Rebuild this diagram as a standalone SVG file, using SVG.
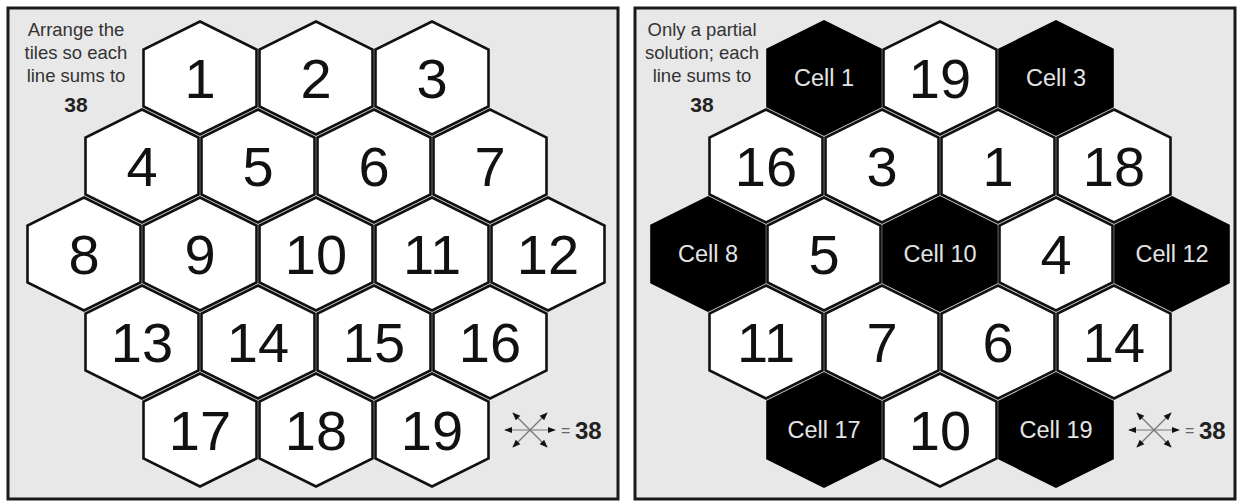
<svg xmlns="http://www.w3.org/2000/svg" xmlns:xlink="http://www.w3.org/1999/xlink" width="1247" height="504" viewBox="0 0 1247 504">
<style>
.panel{fill:#e8e8e8;stroke:#1a1a1a;stroke-width:3}
.hw{fill:#fff;stroke:#111;stroke-width:2.6;stroke-linejoin:miter}
.hb{fill:#000;stroke:#000;stroke-width:2.6}
.num{font-family:"Liberation Sans",Arial,sans-serif;font-size:56px;fill:#111;text-anchor:middle}
.cell{font-family:"Liberation Sans",Arial,sans-serif;font-size:23.5px;fill:#e4e4e4;text-anchor:middle}
.note{font-family:"Liberation Sans",Arial,sans-serif;font-size:18.5px;fill:#333;text-anchor:middle}
.bold{font-family:"Liberation Sans",Arial,sans-serif;font-size:21px;font-weight:bold;fill:#222;text-anchor:middle}
.leg{font-family:"Liberation Sans",Arial,sans-serif;font-size:24px;font-weight:bold;fill:#222}
.eq{font-family:"Liberation Sans",Arial,sans-serif;font-size:16px;fill:#666}
.ax{stroke:#777;stroke-width:1.2;fill:none;marker-start:url(#ah);marker-end:url(#ah)}
</style>
<defs>
<polygon id="hex" points="0,-56.5 56.5,-28.5 56.5,28.5 0,56.5 -56.5,28.5 -56.5,-28.5"/>
<marker id="ah" viewBox="0 0 10 10" refX="9" refY="5" markerWidth="8" markerHeight="8" orient="auto-start-reverse" markerUnits="userSpaceOnUse">
<path d="M0,1 L10,5 L0,9 Z" fill="#111"/>
</marker>
</defs>
<rect x="0" y="0" width="1247" height="504" fill="#fff"/>
<g id="panel-left">
<rect class="panel" x="8" y="8" width="610" height="491"/>
<text class="note" x="76" y="36">Arrange the</text>
<text class="note" x="76" y="59">tiles so each</text>
<text class="note" x="76" y="82">line sums to</text>
<text class="bold" x="76" y="112">38</text>
</g>
<g id="panel-right">
<rect class="panel" x="635" y="8" width="600" height="491"/>
<text class="note" x="702" y="36">Only a partial</text>
<text class="note" x="702" y="59">solution; each</text>
<text class="note" x="702" y="82">line sums to</text>
<text class="bold" x="702" y="112">38</text>
</g>
<g id="left-hexes">
<g id="L1"><use xlink:href="#hex" href="#hex" class="hw" x="200" y="78"/><text class="num" x="200" y="98">1</text></g>
<g id="L2"><use xlink:href="#hex" href="#hex" class="hw" x="316" y="78"/><text class="num" x="316" y="98">2</text></g>
<g id="L3"><use xlink:href="#hex" href="#hex" class="hw" x="432" y="78"/><text class="num" x="432" y="98">3</text></g>
<g id="L4"><use xlink:href="#hex" href="#hex" class="hw" x="142" y="166"/><text class="num" x="142" y="186">4</text></g>
<g id="L5"><use xlink:href="#hex" href="#hex" class="hw" x="258" y="166"/><text class="num" x="258" y="186">5</text></g>
<g id="L6"><use xlink:href="#hex" href="#hex" class="hw" x="374" y="166"/><text class="num" x="374" y="186">6</text></g>
<g id="L7"><use xlink:href="#hex" href="#hex" class="hw" x="490" y="166"/><text class="num" x="490" y="186">7</text></g>
<g id="L8"><use xlink:href="#hex" href="#hex" class="hw" x="84" y="254"/><text class="num" x="84" y="274">8</text></g>
<g id="L9"><use xlink:href="#hex" href="#hex" class="hw" x="200" y="254"/><text class="num" x="200" y="274">9</text></g>
<g id="L10"><use xlink:href="#hex" href="#hex" class="hw" x="316" y="254"/><text class="num" x="316" y="274">10</text></g>
<g id="L11"><use xlink:href="#hex" href="#hex" class="hw" x="432" y="254"/><text class="num" x="432" y="274">11</text></g>
<g id="L12"><use xlink:href="#hex" href="#hex" class="hw" x="548" y="254"/><text class="num" x="548" y="274">12</text></g>
<g id="L13"><use xlink:href="#hex" href="#hex" class="hw" x="142" y="342"/><text class="num" x="142" y="362">13</text></g>
<g id="L14"><use xlink:href="#hex" href="#hex" class="hw" x="258" y="342"/><text class="num" x="258" y="362">14</text></g>
<g id="L15"><use xlink:href="#hex" href="#hex" class="hw" x="374" y="342"/><text class="num" x="374" y="362">15</text></g>
<g id="L16"><use xlink:href="#hex" href="#hex" class="hw" x="490" y="342"/><text class="num" x="490" y="362">16</text></g>
<g id="L17"><use xlink:href="#hex" href="#hex" class="hw" x="200" y="430"/><text class="num" x="200" y="450">17</text></g>
<g id="L18"><use xlink:href="#hex" href="#hex" class="hw" x="316" y="430"/><text class="num" x="316" y="450">18</text></g>
<g id="L19"><use xlink:href="#hex" href="#hex" class="hw" x="432" y="430"/><text class="num" x="432" y="450">19</text></g>
</g>
<g id="right-hexes">
<g id="R1"><use xlink:href="#hex" href="#hex" class="hb" x="824" y="78"/><text class="cell" x="824" y="86">Cell 1</text></g>
<g id="R2"><use xlink:href="#hex" href="#hex" class="hw" x="940" y="78"/><text class="num" x="940" y="98">19</text></g>
<g id="R3"><use xlink:href="#hex" href="#hex" class="hb" x="1056" y="78"/><text class="cell" x="1056" y="86">Cell 3</text></g>
<g id="R4"><use xlink:href="#hex" href="#hex" class="hw" x="766" y="166"/><text class="num" x="766" y="186">16</text></g>
<g id="R5"><use xlink:href="#hex" href="#hex" class="hw" x="882" y="166"/><text class="num" x="882" y="186">3</text></g>
<g id="R6"><use xlink:href="#hex" href="#hex" class="hw" x="998" y="166"/><text class="num" x="998" y="186">1</text></g>
<g id="R7"><use xlink:href="#hex" href="#hex" class="hw" x="1114" y="166"/><text class="num" x="1114" y="186">18</text></g>
<g id="R8"><use xlink:href="#hex" href="#hex" class="hb" x="708" y="254"/><text class="cell" x="708" y="262">Cell 8</text></g>
<g id="R9"><use xlink:href="#hex" href="#hex" class="hw" x="824" y="254"/><text class="num" x="824" y="274">5</text></g>
<g id="R10"><use xlink:href="#hex" href="#hex" class="hb" x="940" y="254"/><text class="cell" x="940" y="262">Cell 10</text></g>
<g id="R11"><use xlink:href="#hex" href="#hex" class="hw" x="1056" y="254"/><text class="num" x="1056" y="274">4</text></g>
<g id="R12"><use xlink:href="#hex" href="#hex" class="hb" x="1172" y="254"/><text class="cell" x="1172" y="262">Cell 12</text></g>
<g id="R13"><use xlink:href="#hex" href="#hex" class="hw" x="766" y="342"/><text class="num" x="766" y="362">11</text></g>
<g id="R14"><use xlink:href="#hex" href="#hex" class="hw" x="882" y="342"/><text class="num" x="882" y="362">7</text></g>
<g id="R15"><use xlink:href="#hex" href="#hex" class="hw" x="998" y="342"/><text class="num" x="998" y="362">6</text></g>
<g id="R16"><use xlink:href="#hex" href="#hex" class="hw" x="1114" y="342"/><text class="num" x="1114" y="362">14</text></g>
<g id="R17"><use xlink:href="#hex" href="#hex" class="hb" x="824" y="430"/><text class="cell" x="824" y="438">Cell 17</text></g>
<g id="R18"><use xlink:href="#hex" href="#hex" class="hw" x="940" y="430"/><text class="num" x="940" y="450">10</text></g>
<g id="R19"><use xlink:href="#hex" href="#hex" class="hb" x="1056" y="430"/><text class="cell" x="1056" y="438">Cell 19</text></g>
</g>
<g id="connectors">
<g id="legend-left">
<line class="ax" x1="505" y1="430" x2="555" y2="430"/>
<line class="ax" x1="513" y1="413" x2="547" y2="447"/>
<line class="ax" x1="547" y1="413" x2="513" y2="447"/>
<text class="eq" x="561" y="436">=</text>
<text class="leg" x="575" y="439">38</text>
</g>
<g id="legend-right">
<line class="ax" x1="1129" y1="430" x2="1179" y2="430"/>
<line class="ax" x1="1137" y1="413" x2="1171" y2="447"/>
<line class="ax" x1="1171" y1="413" x2="1137" y2="447"/>
<text class="eq" x="1185" y="436">=</text>
<text class="leg" x="1199" y="439">38</text>
</g>
</g>
</svg>
